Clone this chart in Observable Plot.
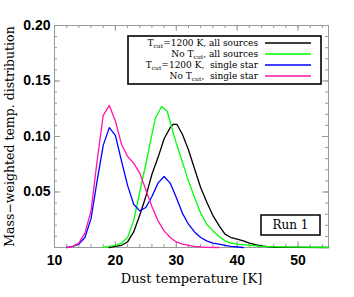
<!DOCTYPE html>
<html><head><meta charset="utf-8">
<script src="https://cdn.jsdelivr.net/npm/d3@7"></script>
<script src="https://cdn.jsdelivr.net/npm/@observablehq/plot@0.6"></script>
<style>body{margin:0;background:#fff}</style>
</head><body><div id="chart"></div>
<script>
// Data
const blackT = [19,20,21,22,23,24,25,26,27,28,29,29.5,30.1,31,32,33,34,35,36,37,38,39,40,41,42,43,44,45,46,50,55];
const blackV = [0,0.001,0.002,0.005,0.014,0.029,0.046,0.066,0.081,0.098,0.108,0.111,0.111,0.102,0.088,0.071,0.054,0.041,0.029,0.020,0.012,0.009,0.0075,0.006,0.004,0.0025,0.0015,0.0007,0.0003,0.0001,0];
const greenT = [18,19,20,21,22,23,24,25,26,26.6,27.6,28.5,29.1,30,31,32,33,34,35,36,37,38,39,40,42,44,47,50,55];
const greenV = [0,0.001,0.002,0.004,0.009,0.024,0.050,0.075,0.102,0.117,0.127,0.123,0.111,0.094,0.077,0.060,0.045,0.031,0.021,0.015,0.010,0.006,0.004,0.003,0.002,0.001,0.0005,0.0003,0.0002];
const blueT = [12,13,14,15,16,17,18,19,20,21,22,23,24,25,26,27,28,29,30,31,32,33,34,35,36,37,38,39,41];
const blueV = [0,0.001,0.003,0.009,0.026,0.060,0.092,0.108,0.101,0.078,0.056,0.039,0.033,0.036,0.046,0.058,0.064,0.058,0.045,0.031,0.021,0.014,0.009,0.006,0.004,0.003,0.002,0.001,0];
const magentaT = [12,13,14,15,16,17,18,19,20,21,22,23,24,25,26,27,28,29,30,31,32,33,34,35,37];
const magentaV = [0,0.001,0.004,0.013,0.033,0.078,0.119,0.128,0.114,0.093,0.082,0.076,0.067,0.052,0.037,0.024,0.015,0.009,0.005,0.003,0.002,0.001,0.0005,0.0002,0];

const seriesNames = ["Tcut all", "NoTcut all", "Tcut single", "NoTcut single"];
const seriesColors = ["#000000", "#00ff00", "#0000ff", "#ff14a8"];
const legendLabels = [
  ["T", "cut", "=1200 K, all sources"],
  ["No T", "cut", ", all sources"],
  ["T", "cut", "=1200 K,  single star"],
  ["No T", "cut", ",  single star"]
];
const xTicks = [10, 20, 30, 40, 50];
const yTicks = [0.05, 0.10, 0.15, 0.20];
const xMinor = d3.range(12, 55, 2);
const yMinor = d3.range(0.01, 0.2, 0.01);
const xTitle = "Dust temperature [K]";
const yTitle = "Mass\u2212weighted temp. distribution";
const runLabel = "Run 1";

const pairs = [[blackT, blackV], [greenT, greenV], [blueT, blueV], [magentaT, magentaV]];
const rows = pairs.flatMap(([T, V], i) => T.map((t, j) => ({series: seriesNames[i], T: t, v: V[j]})));

const X0 = 10, X1 = 55, Y0 = 0, Y1 = 0.2;
const kx = 6 / 6.075, ky = 6 / 1110; // tick lengths in data units
const tickStroke = "#999";
const serif = "DejaVu Serif, serif";

const plot = Plot.plot({
  width: 354, height: 297,
  marginLeft: 54, marginRight: 26, marginTop: 25, marginBottom: 50,
  x: {domain: [X0, X1]},
  y: {domain: [Y0, Y1]},
  color: {domain: seriesNames, range: seriesColors},
  style: {fontFamily: "Liberation Sans, sans-serif", background: "#fff"},
  marks: [
    Plot.frame({stroke: tickStroke}),
    Plot.ruleX(xTicks, {x: d => d, y1: Y0, y2: Y0 + ky, stroke: tickStroke}),
    Plot.ruleX(xTicks, {x: d => d, y1: Y1, y2: Y1 - ky, stroke: tickStroke}),
    Plot.ruleX(xMinor, {x: d => d, y1: Y0, y2: Y0 + ky / 2, stroke: tickStroke}),
    Plot.ruleX(xMinor, {x: d => d, y1: Y1, y2: Y1 - ky / 2, stroke: tickStroke}),
    Plot.ruleY(yTicks, {y: d => d, x1: X0, x2: X0 + kx, stroke: tickStroke}),
    Plot.ruleY(yTicks, {y: d => d, x1: X1, x2: X1 - kx, stroke: tickStroke}),
    Plot.ruleY(yMinor, {y: d => d, x1: X0, x2: X0 + kx / 2, stroke: tickStroke}),
    Plot.ruleY(yMinor, {y: d => d, x1: X1, x2: X1 - kx / 2, stroke: tickStroke}),
    Plot.axisX({ticks: xTicks, tickSize: 0, tickPadding: 8, tickFormat: d => String(d), label: null, fontSize: 14, fontWeight: "bold", fill: "#000"}),
    Plot.axisY({ticks: yTicks, tickSize: 0, tickPadding: 4, tickFormat: d3.format(".2f"), label: null, fontSize: 14, fontWeight: "bold", fill: "#000"}),
    Plot.line(rows, {x: "T", y: "v", z: "series", stroke: "series", strokeWidth: 1.3}),
    Plot.text([xTitle], {frameAnchor: "bottom", lineAnchor: "middle", textAnchor: "middle", dy: 31, fontSize: 13, fontFamily: serif, fill: "#000"}),
    Plot.text([yTitle], {frameAnchor: "left", lineAnchor: "middle", textAnchor: "middle", dx: -45, rotate: -90, fontSize: 12.5, fontFamily: serif, fill: "#000"})
  ]
});
document.getElementById("chart").appendChild(plot);

// Legend box (upper right) and run label box
const svg = d3.select(plot);
const lg = svg.append("g").attr("font-family", serif).attr("font-size", 9).attr("fill", "#000");
lg.append("rect").attr("x", 128).attr("y", 36).attr("width", 193).attr("height", 48)
  .attr("fill", "#fff").attr("stroke", "#000").attr("stroke-width", 1.6);
legendLabels.forEach((parts, i) => {
  const y = 43 + i * 11;
  const t = lg.append("text").attr("x", 258).attr("y", y).attr("dy", "0.35em").attr("text-anchor", "end").attr("xml:space", "preserve");
  t.append("tspan").text(parts[0]);
  t.append("tspan").attr("font-size", 6).attr("dy", 2).text(parts[1]);
  t.append("tspan").attr("dy", -2).text(parts[2]);
  lg.append("line").attr("x1", 265).attr("x2", 311).attr("y1", y).attr("y2", y)
    .attr("stroke", seriesColors[i]).attr("stroke-width", 1.5);
});
const rg = svg.append("g");
rg.append("rect").attr("x", 261).attr("y", 215).attr("width", 59).attr("height", 20)
  .attr("fill", "#fff").attr("stroke", "#000").attr("stroke-width", 1.5);
rg.append("text").attr("x", 290.5).attr("y", 225).attr("dy", "0.35em").attr("text-anchor", "middle")
  .attr("font-family", serif).attr("font-size", 12).text(runLabel);
</script>
</body></html>
